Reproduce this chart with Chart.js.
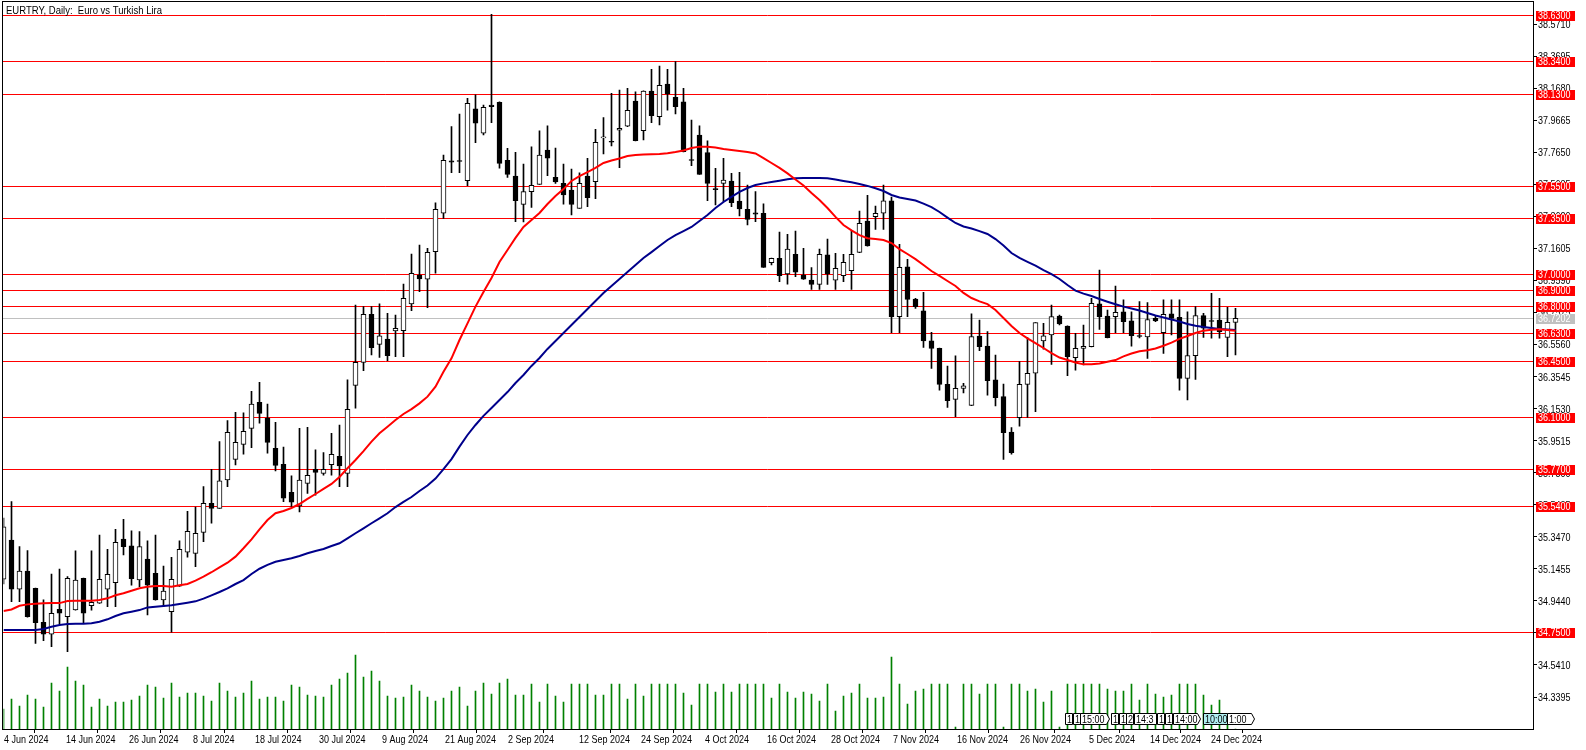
<!DOCTYPE html>
<html>
<head>
<meta charset="utf-8">
<script src="https://cdn.jsdelivr.net/npm/chart.js@4.4.1/dist/chart.umd.min.js"></script>
<style>
  html, body { margin: 0; padding: 0; background: #fff; }
  canvas { display: block; }
</style>
</head>
<body>
<canvas id="chart" width="1586" height="750"></canvas>
<script>
// EURTRY daily bars, 4 Jun 2024 - 27 Dec 2024 (one entry per bar)
const opens = [35.080,35.327,35.017,35.132,35.023,34.809,34.734,34.891,34.844,34.887,
  35.086,34.914,34.929,35.017,35.058,35.333,35.290,35.075,35.207,35.117,
  34.950,34.876,35.037,35.250,35.243,35.375,35.558,35.526,35.704,35.834,
  35.928,36.029,36.193,36.094,35.903,35.802,35.627,35.541,35.683,35.771,
  35.746,35.800,35.853,35.746,36.299,36.444,36.746,36.557,36.590,36.641,
  36.643,36.811,36.993,36.966,37.139,37.381,37.710,37.713,37.586,38.037,
  37.885,38.062,38.079,37.714,37.615,37.437,37.517,37.563,37.779,37.607,
  37.569,37.527,37.412,37.615,37.579,37.855,37.834,37.904,37.928,38.087,
  37.900,38.150,37.988,38.194,38.110,38.081,37.719,37.873,37.762,37.537,
  37.569,37.584,37.458,37.406,37.383,37.381,37.070,37.098,36.999,37.123,
  36.993,36.961,36.934,37.119,36.961,36.988,37.020,37.135,37.332,37.359,
  37.381,37.460,36.731,37.045,36.842,36.768,36.579,36.532,36.305,36.211,
  36.280,36.173,36.609,36.546,36.333,36.228,36.006,36.096,36.305,36.375,
  36.578,36.616,36.735,36.672,36.473,36.532,36.542,36.811,36.735,36.731,
  36.762,36.704,36.612,36.603,36.720,36.630,36.748,36.727,36.343,36.486,
  36.737,36.707,36.710,36.601,36.695];
const highs = [35.465,35.568,35.285,35.260,35.025,34.950,35.113,35.144,35.096,35.258,
  35.088,35.258,35.358,35.268,35.394,35.457,35.385,35.379,35.321,35.358,
  35.163,35.218,35.321,35.507,35.534,35.662,35.771,35.945,36.077,36.130,
  36.127,36.262,36.318,36.182,36.067,35.911,35.730,36.029,36.035,35.893,
  35.876,35.997,36.050,36.333,36.804,36.794,36.794,36.811,36.752,36.741,
  36.936,37.125,37.181,37.161,37.447,37.747,37.926,38.005,38.104,38.125,
  38.062,38.632,38.081,37.789,37.764,37.691,37.799,37.900,37.930,37.791,
  37.691,37.659,37.636,37.727,37.909,37.982,38.135,38.156,38.167,38.145,
  38.151,38.286,38.307,38.286,38.334,38.167,37.967,37.930,37.836,37.664,
  37.727,37.632,37.639,37.559,37.517,37.440,37.099,37.262,37.249,37.269,
  37.161,37.039,37.156,37.219,37.129,37.123,37.269,37.395,37.494,37.427,
  37.559,37.483,37.186,37.092,36.846,36.884,36.632,36.533,36.421,36.485,
  36.311,36.748,36.710,36.637,36.489,36.307,36.033,36.448,36.599,36.694,
  36.689,36.804,36.741,36.673,36.626,36.678,36.846,37.024,36.773,36.924,
  36.836,36.761,36.825,36.819,36.734,36.836,36.836,36.836,36.761,36.794,
  36.752,36.878,36.846,36.790,36.783];
const lows = [35.050,34.939,34.939,34.842,34.677,34.694,34.656,34.799,34.624,34.885,
  34.807,34.885,34.928,34.907,34.907,35.233,35.043,35.033,34.855,34.948,
  34.907,34.747,35.035,35.218,35.159,35.316,35.433,35.525,35.662,35.798,
  35.867,35.908,36.061,35.872,35.761,35.568,35.534,35.503,35.620,35.609,
  35.735,35.735,35.662,35.662,36.155,36.391,36.490,36.475,36.454,36.480,
  36.480,36.769,36.888,36.787,37.004,37.349,37.636,37.636,37.554,37.825,
  37.874,37.950,37.664,37.607,37.328,37.326,37.418,37.562,37.617,37.569,
  37.439,37.370,37.411,37.422,37.473,37.754,37.804,37.668,37.926,37.836,
  37.842,37.950,37.936,38.030,38.005,37.767,37.680,37.625,37.460,37.433,
  37.454,37.422,37.364,37.307,37.328,37.040,37.056,36.951,36.936,36.982,
  36.965,36.903,36.903,36.934,36.903,36.951,36.903,37.134,37.174,37.280,
  37.280,36.630,36.630,36.731,36.783,36.537,36.406,36.269,36.161,36.102,
  36.252,36.172,36.517,36.238,36.169,35.834,35.867,36.043,36.098,36.134,
  36.527,36.430,36.679,36.360,36.395,36.427,36.541,36.651,36.598,36.630,
  36.630,36.546,36.598,36.469,36.699,36.500,36.616,36.269,36.207,36.337,
  36.601,36.595,36.595,36.479,36.490];
const closes = [35.410,35.017,35.132,34.844,34.807,34.734,34.866,34.866,35.086,35.075,
  34.866,34.935,35.080,35.111,35.312,35.285,35.084,35.285,35.043,34.950,
  35.006,35.080,35.268,35.382,35.369,35.558,35.526,35.698,36.004,35.941,
  36.010,36.182,36.123,35.941,35.796,35.589,35.564,35.704,35.734,35.752,
  35.771,35.865,35.792,36.149,36.444,36.746,36.536,36.611,36.485,36.658,
  36.846,37.004,36.968,37.135,37.406,37.714,37.703,37.707,38.072,37.947,
  38.047,38.052,37.695,37.626,37.460,37.517,37.557,37.747,37.727,37.578,
  37.496,37.437,37.569,37.479,37.827,37.861,37.828,37.915,38.028,37.837,
  38.150,37.994,38.186,38.131,38.051,37.768,37.713,37.626,37.569,37.530,
  37.590,37.447,37.408,37.343,37.376,37.041,37.098,36.988,37.156,37.010,
  36.966,36.934,37.123,36.999,37.035,37.072,37.123,37.318,37.175,37.381,
  37.460,36.731,37.041,36.840,36.793,36.579,36.532,36.305,36.203,36.280,
  36.296,36.605,36.542,36.328,36.221,36.001,35.876,36.305,36.375,36.693,
  36.611,36.731,36.685,36.479,36.532,36.545,36.815,36.731,36.599,36.758,
  36.699,36.611,36.606,36.713,36.704,36.746,36.720,36.343,36.486,36.737,
  36.658,36.701,36.637,36.695,36.7202];

// moving averages as drawn on the chart (red = fast, dark blue = slow)
const maFast = [34.880,34.890,34.913,34.922,34.926,34.929,34.930,34.930,34.943,34.945,
  34.945,34.945,34.950,34.960,34.979,34.992,35.008,35.023,35.033,35.037,
  35.037,35.033,35.042,35.050,35.071,35.096,35.124,35.155,35.184,35.222,
  35.275,35.331,35.394,35.452,35.495,35.509,35.528,35.553,35.585,35.616,
  35.648,35.679,35.723,35.778,35.830,35.886,35.945,35.998,36.039,36.081,
  36.119,36.150,36.186,36.228,36.291,36.385,36.469,36.584,36.689,36.794,
  36.886,36.974,37.075,37.150,37.226,37.295,37.339,37.383,37.439,37.490,
  37.533,37.584,37.615,37.640,37.666,37.697,37.713,37.725,37.741,37.747,
  37.751,37.752,37.754,37.758,37.766,37.776,37.791,37.800,37.800,37.795,
  37.785,37.779,37.773,37.766,37.757,37.728,37.697,37.666,37.632,37.593,
  37.556,37.508,37.464,37.414,37.358,37.307,37.273,37.244,37.224,37.219,
  37.213,37.194,37.156,37.125,37.093,37.056,37.018,36.987,36.955,36.924,
  36.880,36.848,36.827,36.810,36.773,36.723,36.672,36.628,36.595,36.565,
  36.534,36.502,36.474,36.458,36.443,36.431,36.431,36.437,36.448,36.458,
  36.481,36.499,36.513,36.520,36.531,36.548,36.568,36.591,36.609,36.628,
  36.643,36.649,36.652,36.647,36.643];
const maSlow = [34.761,34.761,34.761,34.761,34.761,34.767,34.781,34.792,34.798,34.800,
  34.800,34.803,34.813,34.828,34.849,34.866,34.876,34.886,34.903,34.907,
  34.911,34.916,34.924,34.932,34.941,34.958,34.979,35.000,35.023,35.050,
  35.075,35.113,35.146,35.170,35.190,35.201,35.212,35.226,35.243,35.258,
  35.270,35.289,35.306,35.337,35.369,35.400,35.432,35.463,35.495,35.534,
  35.566,35.597,35.635,35.669,35.713,35.773,35.835,35.914,35.987,36.050,
  36.107,36.157,36.207,36.257,36.314,36.364,36.421,36.471,36.528,36.578,
  36.628,36.679,36.729,36.779,36.829,36.880,36.924,36.968,37.012,37.056,
  37.100,37.137,37.175,37.213,37.244,37.269,37.295,37.332,37.370,37.414,
  37.452,37.484,37.515,37.540,37.559,37.569,37.578,37.586,37.595,37.601,
  37.603,37.603,37.603,37.601,37.593,37.584,37.576,37.565,37.553,37.538,
  37.521,37.496,37.480,37.471,37.461,37.442,37.420,37.389,37.354,37.320,
  37.298,37.285,37.269,37.251,37.219,37.178,37.131,37.100,37.076,37.052,
  37.024,36.999,36.968,36.930,36.895,36.876,36.861,36.842,36.825,36.809,
  36.794,36.782,36.770,36.754,36.738,36.726,36.713,36.701,36.685,36.674,
  36.666,36.660,36.653,36.650,36.647];

// tick volume (relative units)
const volumes = [20,30,23,34,30,22,46,38,62,48,
  44,22,30,23,27,27,29,33,44,42,
  31,46,32,36,36,33,28,46,38,32,
  36,48,30,32,32,28,44,42,34,33,
  32,44,50,56,74,52,58,48,33,31,
  32,44,38,32,28,31,38,42,23,38,
  46,35,46,50,34,34,45,27,45,33,
  27,45,45,45,34,34,45,45,30,45,
  33,45,45,45,45,36,24,45,45,37,
  45,37,45,45,45,45,31,45,37,31,
  37,35,28,45,18,33,36,45,31,31,
  32,72,45,25,38,40,45,45,45,2,
  45,45,35,45,45,2,45,45,38,40,
  27,38,2,45,45,45,45,45,40,38,
  38,45,29,45,35,32,34,45,45,45,
  34,24,29,10,0];

// time axis labels and the bar they sit on
const tickBars = [0,7.83,15.7,23.63,31.5,39.38,47.29,55.13,63.04,71.88,
  79.75,87.63,95.5,103.41,111.25,119.16,127.08,135.7,143.33,151];
const tickLabels = ['4 Jun 2024','14 Jun 2024','26 Jun 2024','8 Jul 2024','18 Jul 2024',
  '30 Jul 2024','9 Aug 2024','21 Aug 2024','2 Sep 2024','12 Sep 2024','24 Sep 2024',
  '4 Oct 2024','16 Oct 2024','28 Oct 2024','7 Nov 2024','16 Nov 2024','26 Nov 2024',
  '5 Dec 2024','14 Dec 2024','24 Dec 2024'];

// price axis
const priceTicks = [34.3395,34.5410,34.7425,34.9440,35.1455,35.3470,35.5485,35.7500,
  35.9515,36.1530,36.3545,36.5560,36.7575,36.9590,37.1605,37.3620,37.5635,37.7650,
  37.9665,38.1680,38.3695,38.5710];
const levels = [38.63,38.34,38.13,37.55,37.35,37.00,36.90,36.80,36.63,36.45,36.10,35.77,35.54,34.75];
const lastPrice = 36.7202;

// small calendar tags along the bottom (bar position, width in px, text)
const calendarTags = [
  {at: 132.7, w: 7, text: '1'}, {at: 133.65, w: 7, text: '1'}, {at: 134.6, w: 26, text: '15:00', arrow: true},
  {at: 138.4, w: 7, text: '1'}, {at: 139.4, w: 7, text: '1'}, {at: 140.35, w: 7, text: '2'},
  {at: 141.3, w: 22, text: '14:3'}, {at: 144.2, w: 7, text: '1'}, {at: 145.2, w: 7, text: '1'},
  {at: 146.15, w: 24, text: '14:00', arrow: true}, {at: 149.9, w: 24, text: '10:00', hi: true, arrow: true},
  {at: 153.0, w: 24, text: '1:00', arrow: true}
];

const FAMILY = "'Liberation Sans', Arial, sans-serif";
const FONT = '11px ' + FAMILY;
// squeeze factor so the axis digits come out as narrow as the terminal's bitmap font
const SQ = (() => {
  const c = document.createElement('canvas').getContext('2d');
  c.font = FONT;
  return 32.5 / c.measureText('38.5710').width;
})();

function squeezedText(ctx, text, x, y, fitWidth) {
  ctx.save();
  ctx.translate(x, y);
  const k = fitWidth ? fitWidth / ctx.measureText(text).width : SQ;
  ctx.scale(k, 1);
  ctx.fillText(text, 0, 0);
  ctx.restore();
}

const idx = opens.map((_, i) => i);
const wickData = idx.map(i => ({x: i, y: [lows[i], highs[i]]}));
const bodyData = idx.map(i => ({x: i, y: [opens[i], closes[i]]}));
const bodyColors = idx.map(i => closes[i] >= opens[i] ? '#ffffff' : '#000000');

const overlay = {
  id: 'overlay',
  beforeDatasetsDraw(chart) {
    const {ctx, chartArea: a, scales: {y}} = chart;
    ctx.save();
    ctx.lineWidth = 1;
    const hline = (v, color) => {
      const py = Math.round(y.getPixelForValue(v)) + 0.5;
      ctx.strokeStyle = color;
      ctx.beginPath();
      ctx.moveTo(a.left - 1, py);
      ctx.lineTo(a.right, py);
      ctx.stroke();
    };
    hline(lastPrice, '#c0c0c0');
    levels.forEach(v => hline(v, '#ff0000'));
    ctx.restore();
  },
  afterDatasetsDraw(chart) {
    const {ctx, scales: {x}} = chart;
    ctx.save();
    ctx.font = FONT;
    ctx.textBaseline = 'middle';
    ctx.lineWidth = 1;
    calendarTags.forEach(t => {
      const left = Math.round(x.getPixelForValue(t.at)) + 0.5;
      const top = 713.5, h = 11, tip = t.arrow ? 3 : 0;
      ctx.beginPath();
      ctx.moveTo(left, top);
      ctx.lineTo(left + t.w, top);
      ctx.lineTo(left + t.w + tip, top + h / 2);
      ctx.lineTo(left + t.w, top + h);
      ctx.lineTo(left, top + h);
      ctx.closePath();
      ctx.fillStyle = t.hi ? '#b0eef0' : '#ffffff';
      ctx.fill();
      ctx.strokeStyle = '#000';
      ctx.stroke();
      ctx.fillStyle = '#000';
      squeezedText(ctx, t.text, left + 1.5, top + 6);
    });
    ctx.restore();
  },
  afterDraw(chart) {
    const {ctx, chartArea: a, scales: {x, y}} = chart;
    ctx.save();
    // frame
    ctx.strokeStyle = '#000';
    ctx.lineWidth = 1;
    ctx.strokeRect(2.5, 1.5, a.right - 2, a.bottom - 1);
    ctx.fillStyle = '#000';
    ctx.font = FONT;
    // title
    ctx.textBaseline = 'alphabetic';
    squeezedText(ctx, 'EURTRY, Daily:  Euro vs Turkish Lira', 6, 13.5, 156);
    // price scale labels
    ctx.textBaseline = 'middle';
    priceTicks.forEach(v => {
      const py = Math.round(y.getPixelForValue(v));
      squeezedText(ctx, v.toFixed(4), a.right + 5, py + 1);
    });
    // time scale labels
    tickBars.forEach((b, i) => {
      const px = Math.round(x.getPixelForValue(b));
      squeezedText(ctx, tickLabels[i], px, a.bottom + 10.5);
    });
    // price tags
    const tag = (v, bg) => {
      const py = Math.round(y.getPixelForValue(v));
      ctx.fillStyle = bg;
      ctx.fillRect(a.right + 3, py - 4, 39, 10);
      ctx.fillStyle = '#ffffff';
      squeezedText(ctx, v.toFixed(4), a.right + 5, py + 1);
    };
    levels.forEach(v => tag(v, '#ff0000'));
    tag(lastPrice, '#c0c0c0');
    ctx.restore();
  }
};

new Chart(document.getElementById('chart'), {
  type: 'bar',
  data: {
    datasets: [
      {type: 'line', data: idx.map(i => ({x: i, y: maFast[i]})), borderColor: '#ff0000', borderWidth: 2,
        pointRadius: 0, tension: 0, order: 0, yAxisID: 'y'},
      {type: 'line', data: idx.map(i => ({x: i, y: maSlow[i]})), borderColor: '#00008b', borderWidth: 2,
        pointRadius: 0, tension: 0, order: 0, yAxisID: 'y'},
      {data: bodyData, backgroundColor: bodyColors, borderColor: '#000', borderWidth: 1, borderSkipped: false,
        barThickness: 5, grouped: false, order: 1, yAxisID: 'y'},
      {data: wickData, backgroundColor: '#000', borderWidth: 0, barThickness: 1, grouped: false, order: 2, yAxisID: 'y'},
      {data: idx.map(i => ({x: i, y: volumes[i]})), backgroundColor: '#008000', borderWidth: 0,
        barThickness: 1, grouped: false, order: 3, yAxisID: 'yv'}
    ]
  },
  options: {
    responsive: false,
    animation: false,
    devicePixelRatio: 1,
    layout: {padding: {left: 3.5, top: 1.5, right: 0, bottom: 0}},
    plugins: {legend: {display: false}, tooltip: {enabled: false}, title: {display: false}},
    scales: {
      x: {
        type: 'linear', position: 'bottom', offset: false,
        min: 0, max: 191.19,
        afterFit: s => { s.height = 21; },
        afterBuildTicks: s => { s.ticks = tickBars.map(v => ({value: v})); },
        grid: {drawOnChartArea: false, drawTicks: true, tickLength: 4, color: '#000'},
        border: {display: false},
        ticks: {display: false, autoSkip: false, maxRotation: 0}
      },
      y: {
        type: 'linear', position: 'right',
        min: 34.1384, max: 38.7125,
        afterFit: s => { s.width = 53; },
        afterBuildTicks: s => { s.ticks = priceTicks.map(v => ({value: v})); },
        grid: {drawOnChartArea: false, drawTicks: true, tickLength: 4, color: '#000'},
        border: {display: false},
        ticks: {display: false, autoSkip: false}
      },
      yv: {display: false, min: 0, max: 727.5}
    }
  },
  plugins: [overlay]
});
</script>
</body>
</html>
